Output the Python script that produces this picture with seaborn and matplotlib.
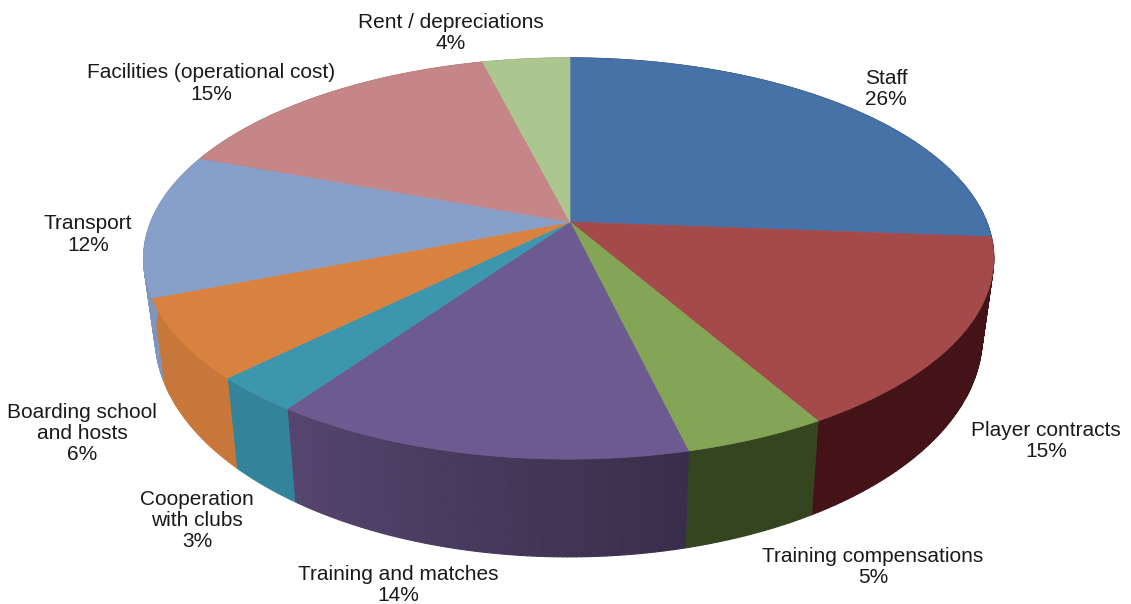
import numpy as np
import matplotlib
matplotlib.use("Agg")
import matplotlib.pyplot as plt
from matplotlib.transforms import Transform
from matplotlib.collections import PolyCollection
import seaborn as sns

categories = ["Staff", "Player contracts", "Training compensations", "Training and matches",
              "Cooperation\nwith clubs", "Boarding school\nand hosts", "Transport",
              "Facilities (operational cost)", "Rent / depreciations"]
shares = [26.2, 15.45, 4.6, 13.5, 2.9, 6.4, 11.6, 15.4, 3.95]
top_colours = ["#4672a8", "#a44a4a", "#84a556", "#6d5a90", "#3c97ae", "#d9813f", "#86a0c9", "#c48686", "#abc78f"]
wall_colours = ["#2a4466", "#431318", "#34451f", "#55456f", "#33849a", "#c8773a", "#7f95ba", "#a06c6c", "#8aa070"]
label_xy = [(886, 89), (1046, 441), (873, 567), (398, 585), (197, 520.5), (82, 433.5), (88, 234.5), (211, 83.5), (451, 33)]

CX, CY, A, B, K, M = 570.0, 222.0, 418.0, 194.0, 0.182, 0.003
DROP, SHRINK_X, SHRINK_Y = 74.0, 0.973, 1.10


class Perspective(Transform):
    """Lays the flat unit pie on a tilted plane, in pixel-like data units."""
    input_dims = output_dims = 2

    def __init__(self, sx=1.0, sy=1.0, drop=0.0):
        super().__init__()
        self.sx, self.sy, self.drop = sx, sy, drop

    def transform_non_affine(self, values):
        v = np.asarray(values, float)
        w = 1 + K * v[:, 1] + M * v[:, 0]
        return np.column_stack([CX + self.sx * A * v[:, 0] / w,
                                CY - self.sy * B * v[:, 1] / w + self.drop])


sns.set_theme(style="white")
fig, ax = plt.subplots(figsize=(11.31, 6.04), dpi=100)
fig.subplots_adjust(0, 0, 1, 1)
palette = sns.color_palette(top_colours)

wedges, _ = ax.pie(shares, colors=palette, startangle=90, counterclock=False, radius=1)
ax.set_aspect("auto")
ax.set_xlim(0, 1131)
ax.set_ylim(604, 0)
ax.axis("off")

top = Perspective()
low = Perspective(SHRINK_X, SHRINK_Y, DROP)
for w, c in zip(wedges, palette):
    w.set_transform(w.get_patch_transform() + top + ax.transData)
    w.set_zorder(3)
    w.set_edgecolor(c)
    w.set_linewidth(0.5)

# side wall, shaded by facing direction
edges = np.concatenate([[0], np.cumsum(shares)]) / np.sum(shares) * 360
for i, wc in enumerate(wall_colours):
    th = np.linspace(edges[i], edges[i + 1], max(3, int(edges[i + 1] - edges[i]) * 2))
    rim = np.column_stack([np.sin(np.radians(th)), np.cos(np.radians(th))])
    t, b = top.transform_non_affine(rim), low.transform_non_affine(rim)
    quads, cols = [], []
    base = np.array(matplotlib.colors.to_rgb(wc))
    mid = (th[:-1] + th[1:]) / 2
    for j, m in enumerate(mid):
        quads.append([t[j], t[j + 1], b[j + 1], b[j]])
        f = 1.0
        if categories[i].startswith("Training and"):
            f = np.interp(m, [166, 215], [0.66, 1.0])
        cols.append(base * f)
    ax.add_collection(PolyCollection(quads, facecolors=cols, edgecolors=cols, linewidths=0.8, zorder=2))

for name, share, (x, y) in zip(categories, shares, label_xy):
    ax.text(x, y, f"{name}\n{round(share)}%", ha="center", va="center", ma="center",
            fontsize=15, family="Liberation Sans", color="#1a1a1a", linespacing=1.15, zorder=5)

fig.savefig("out.png", dpi=100)
